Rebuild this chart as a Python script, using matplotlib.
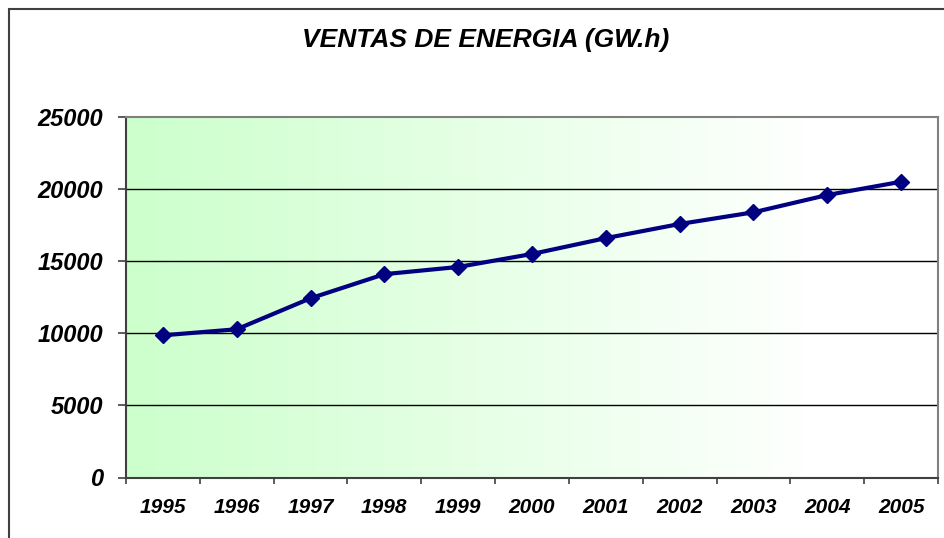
import numpy as np
import matplotlib
matplotlib.use('Agg')
import matplotlib.pyplot as plt
from matplotlib.patches import Rectangle

years = ['1995', '1996', '1997', '1998', '1999', '2000', '2001', '2002', '2003', '2004', '2005']
ventas = [9860, 10280, 12430, 14100, 14600, 15500, 16600, 17580, 18390, 19590, 20510]
yticks = [0, 5000, 10000, 15000, 20000, 25000]

plt.rcParams['font.family'] = ['Liberation Sans', 'DejaVu Sans']

W, H = 945, 538
fig = plt.figure(figsize=(W / 100, H / 100), dpi=100)

# plot area in pixel coords
left, right, top, bottom = 126, 938, 117, 477.5
ax = fig.add_axes([left / W, 1 - bottom / H, (right - left) / W, (bottom - top) / H])

# outer chart frame
fig.patches.append(Rectangle((9 / W, -0.1), 1.2, (H - 9.5) / H + 0.1, transform=fig.transFigure,
                             fill=False, edgecolor='#404040', linewidth=1.5))

# horizontal gradient green -> white
grad = np.linspace(0, 1, 256)
grad = np.clip(grad / 0.85, 0, 1)
c0 = np.array([204, 255, 204]) / 255.0
c1 = np.array([255, 255, 255]) / 255.0
img = c0[None, :] * (1 - grad[:, None]) + c1[None, :] * grad[:, None]
ax.imshow(img[None, :, :], extent=[-0.5, len(years) - 0.5, 0, 25000], aspect='auto', zorder=0)

x = np.arange(len(years))
ax.set_xlim(-0.5, len(years) - 0.5)
ax.set_ylim(0, 25000)

for v in yticks[1:-1]:
    ax.axhline(v, color='black', linewidth=1, zorder=1)

ax.plot(x, ventas, color='#000080', linewidth=3, marker='D', markersize=8, zorder=3)

ax.set_yticks(yticks)
ax.set_yticklabels([str(v) for v in yticks], fontsize=17, fontweight='bold', fontstyle='italic')
ax.set_xticks(np.arange(len(years) + 1) - 0.5)
ax.set_xticklabels([])
ax.set_xticks(x, minor=True)
ax.set_xticklabels(years, minor=True, fontsize=15, fontweight='bold', fontstyle='italic')
ax.tick_params(axis='x', which='minor', length=0, pad=15)
ax.tick_params(axis='x', which='major', length=4.5, width=1.2, color='#404040')
ax.tick_params(axis='y', length=6, width=1.2, color='#404040', pad=10.5)

for s in ['top', 'right']:
    ax.spines[s].set_color('#808080')
    ax.spines[s].set_linewidth(1.5)
for s in ['left', 'bottom']:
    ax.spines[s].set_color('#404040')
    ax.spines[s].set_linewidth(1.5)

fig.text(486 / W, 1 - 40 / H, 'VENTAS DE ENERGIA (GW.h)', ha='center', va='center',
         fontsize=19, fontweight='bold', fontstyle='italic')

plt.savefig('out.png', dpi=100)
